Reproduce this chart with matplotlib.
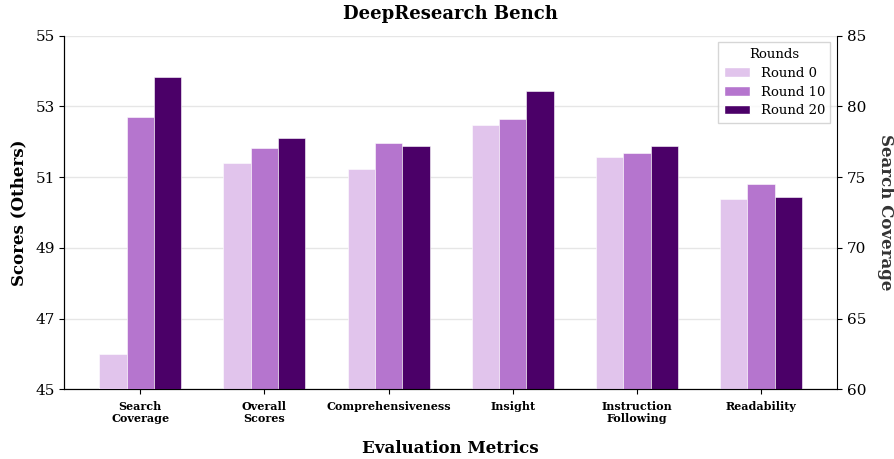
import matplotlib
matplotlib.use("Agg")
import matplotlib.pyplot as plt
import numpy as np
from matplotlib.patches import Patch

plt.rcParams['font.family'] = ['DejaVu Serif']

categories = ["Search\nCoverage", "Overall\nScores", "Comprehensiveness", "Insight",
              "Instruction\nFollowing", "Readability"]
rounds = ["Round 0", "Round 10", "Round 20"]
colors = ["#E1C4EC", "#B575CE", "#4B0068"]

# Search Coverage (right axis)
search_cov = [62.5, 79.25, 82.1]
# Other metrics (left axis), per round
round0 = [51.40, 51.23, 52.49, 51.57, 50.38]
round10 = [51.83, 51.96, 52.65, 51.69, 50.80]
round20 = [52.11, 51.88, 53.44, 51.87, 50.44]
others = [round0, round10, round20]

width = 0.22
x = np.arange(len(categories))

fig, ax = plt.subplots(figsize=(8.95, 4.59), dpi=100)
ax2 = ax.twinx()

for i in range(3):
    off = (i - 1) * width
    ax.bar(x[1:] + off, others[i], width, color=colors[i], edgecolor='white', linewidth=0.4,
           zorder=3)
    ax2.bar(x[0] + off, search_cov[i], width, color=colors[i], edgecolor='white', linewidth=0.4,
            zorder=3)

ax.set_ylim(45, 55)
ax.set_yticks([45, 47, 49, 51, 53, 55])
ax2.set_ylim(60, 85)
ax2.set_yticks([60, 65, 70, 75, 80, 85])
ax.set_xlim(-0.61, 5.61)
ax.set_xticks(x)
ax.set_xticklabels(categories, fontsize=8, fontweight='bold', linespacing=1.15)
ax.tick_params(axis='x', pad=5)
ax.tick_params(axis='y', labelsize=11, direction='out')
ax2.tick_params(axis='y', labelsize=11)
ax.grid(axis='y', color='#e6e6e6', linewidth=1, zorder=0)
ax.set_axisbelow(True)

for a in (ax, ax2):
    a.spines['top'].set_visible(False)
ax.spines['right'].set_visible(False)

ax.set_ylabel("Scores (Others)", fontsize=12, fontweight='bold', labelpad=6)
ax2.set_ylabel("Search Coverage", fontsize=12, fontweight='bold', rotation=270,
               labelpad=20, color='#333333')
ax.set_xlabel("Evaluation Metrics", fontsize=12, fontweight='bold', labelpad=11)
ax.set_title("DeepResearch Bench", fontsize=13, fontweight='bold', pad=12)

handles = [Patch(facecolor=c, edgecolor='white', label=r) for c, r in zip(colors, rounds)]
leg = ax2.legend(handles=handles, title="Rounds", loc='upper right', fontsize=9.5,
                 title_fontsize=9.5, frameon=True, fancybox=False, labelspacing=0.45,
                 borderaxespad=0.5)
leg.get_frame().set_edgecolor('#cccccc')

fig.subplots_adjust(left=0.072, right=0.935, top=0.922, bottom=0.152)
fig.savefig("out.png", dpi=100)
